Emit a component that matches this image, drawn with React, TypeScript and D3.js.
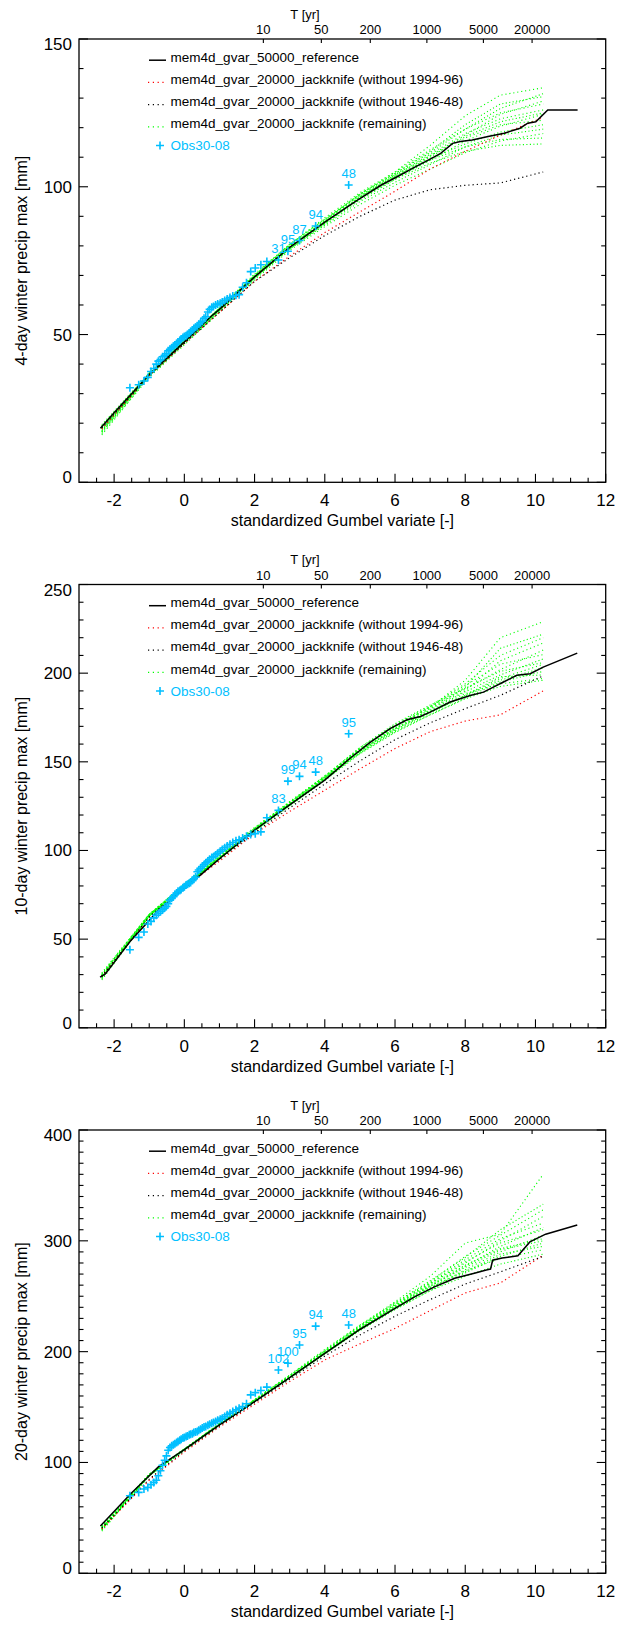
import React from "react";
import * as d3 from "d3";

// ---------- data ----------
const GX = [-2.35, -1, 0, 1, 2, 3, 4, 5, 6, 7, 8, 9, 10.22];

const OBS_X = [
  -1.55, -1.3, -1.15, -1.04, -0.95, -0.87, -0.8, -0.74, -0.68, -0.62,
  -0.56, -0.51, -0.46, -0.41, -0.36, -0.31, -0.27, -0.22, -0.18, -0.13,
  -0.09, -0.04, 0.0, 0.05, 0.09, 0.14, 0.18, 0.23, 0.27, 0.32,
  0.37, 0.41, 0.46, 0.51, 0.56, 0.61, 0.67, 0.72, 0.78, 0.83,
  0.89, 0.95, 1.02, 1.08, 1.15, 1.22, 1.3, 1.38, 1.47, 1.56,
  1.66, 1.77, 1.89, 2.02, 2.18, 2.35, 2.68, 2.95, 3.28, 3.74, 4.68,
];

// Panel 1: 4-day
const P1_REF_X = [-2.39, -2, -1, 0, 0.75, 1, 2, 3, 4, 4.93, 5.61, 6.06, 6.51, 6.96, 7.3, 7.64, 7.86, 8.2, 8.65, 9.11, 9.56, 9.78, 10.01, 10.35, 11.2];
const P1_REF_Y = [18.3, 23.5, 36.5, 47.5, 56, 58.5, 69.5, 79.5, 88, 95.5, 100.6, 103.4, 106.3, 109.1, 111.3, 114.7, 115.3, 115.8, 117, 118.1, 119.8, 121.5, 122, 126, 126];
const P1_RED = [18, 36, 47, 57.5, 68, 76.5, 84.5, 91.5, 98.5, 106, 112, 117.5, 123.5];
const P1_BLK = [18.5, 36, 47, 57.5, 68, 76, 83.5, 90, 95.5, 99, 100.5, 101.3, 105];
const P1_G1 = [16, 36, 47.5, 58.5, 70, 80.5, 89.5, 98, 105, 114, 124, 131, 133.5];
const P1_G2 = [17, 36.5, 48, 59, 70.5, 80.5, 89, 97.5, 104.5, 112, 121, 128, 130.5];
const P1_G3 = [18, 36.5, 47.5, 58.5, 69.5, 79.5, 88.5, 97, 104, 111, 118, 123, 126];
const P1_G4 = [19, 37, 48, 59, 70, 80, 88, 96.5, 103.5, 110, 117, 122, 125];
const P1_G5 = [17.5, 36, 47, 58, 69, 79, 87.5, 95.5, 102.5, 109, 115.5, 120.5, 124.5];
const P1_G6 = [18.5, 36.5, 47.5, 58.5, 69.5, 79, 87, 95, 101.5, 107.5, 113.5, 117.5, 119.5];
const P1_G7 = [16.5, 35.5, 46.5, 57.5, 68.5, 78.5, 86.5, 94, 100.5, 106, 111.5, 115.5, 118];
const P1_G8 = [19.5, 37, 48, 58.5, 69.5, 79.5, 88, 96, 102.5, 108, 112, 114, 114.5];
const P1_G9 = [17, 36, 47, 58, 69, 79, 87.5, 96.5, 104, 110.5, 116.5, 121, 122.5];
const P1_G10 = [18, 36.5, 47.5, 59, 70, 80.5, 89, 97, 103.5, 109.5, 114.5, 118.5, 121];
const P1_G11 = [18, 36, 47.5, 58.5, 69.5, 80, 88.5, 97.5, 105, 112.5, 119.5, 125, 128];
const P1_G12 = [17.5, 36.5, 47.5, 58.5, 69.5, 79, 87.5, 96, 103, 109, 113.5, 116, 116.5];
const P1_G13 = [18.5, 36, 47, 58, 69, 79.5, 88, 96.5, 103.5, 110.5, 117.5, 124.5, 129];
const P1_G14 = [19, 36.5, 47.5, 58.5, 70, 80, 88.5, 97.5, 104.5, 111.5, 119.5, 126.5, 131.5];
const P1_OBS = [
  32, 33, 34.3, 35.5, 37.5, 38.5, 40, 41, 41.5, 42.5,
  43, 43.5, 44.5, 45, 45.5, 46, 46.5, 47, 47.5, 48,
  48.5, 49, 49.3, 49.6, 50, 50.5, 51, 51.5, 52, 52.5,
  53, 53.5, 54, 54.5, 55.5, 56, 57.6, 58.5, 59.2, 59.5,
  60, 60.3, 60.6, 61, 61.5, 62, 62.5, 63, 63.3, 63.5,
  66, 67.5, 71.3, 72.5, 73.6, 74.7, 75.2, 78.2, 81.8, 86.7, 100.6,
];
const P1_LABELS = ["31", "95", "87", "94", "48"];

// Panel 2: 10-day
const P2_REF_X = [-2.4, -2.25, -1.52, -0.74, 0.39, 1.06, 1.99, 2.64, 3.31, 3.99, 4.72, 5.29, 5.86, 6.34, 6.72, 7.0, 7.57, 8.14, 8.52, 8.8, 9.09, 9.47, 9.85, 10.22, 11.19];
const P2_REF_Y = [28.6, 30.4, 49.3, 66.2, 85, 96.3, 111.3, 120.7, 130.1, 139.5, 152, 161, 168.7, 173.7, 175.6, 178, 183.7, 187.4, 189.3, 192.1, 195, 198.8, 199.7, 203.4, 211.3];
const P2_RED = [29, 62, 79, 94, 109.5, 122, 134, 146, 157.5, 167, 173, 176.5, 190];
const P2_BLK = [29, 62.5, 79.5, 95, 110, 124, 137.5, 150.5, 162.5, 172, 180, 187.5, 198.5];
const P2_G1 = [27, 63, 81, 97, 113, 127.5, 142, 157, 170, 180.5, 196, 220, 229];
const P2_G2 = [28, 63.5, 80.5, 96.5, 112.5, 127, 141.5, 156.5, 169, 179.5, 192, 214, 222];
const P2_G3 = [30, 64, 80.5, 96, 112, 126.5, 141, 157, 170.5, 181, 191, 202, 213];
const P2_G4 = [31, 64, 80, 95.5, 111.5, 126, 140.5, 156, 169, 179, 189.5, 199, 208];
const P2_G5 = [29, 63, 79.5, 95, 111, 125.5, 140, 155.5, 168, 178, 187.5, 197, 205];
const P2_G6 = [28.5, 63, 80, 95.5, 111.5, 126, 140.5, 155, 167, 176.5, 186, 195, 201];
const P2_G7 = [30.5, 64, 80.5, 96, 112, 126.5, 141, 156, 168.5, 178.5, 188.5, 194, 197];
const P2_G8 = [27.5, 63, 80, 95.5, 111, 125, 139.5, 154.5, 166.5, 176.5, 185.5, 192.5, 196];
const P2_G9 = [29, 63.5, 80, 95.5, 111.5, 126, 141, 157.5, 170, 181, 193, 205, 210.5];
const P2_G10 = [30, 64, 81, 96.5, 112.5, 127, 142, 158, 171.5, 182, 191.5, 201, 206];
const P2_G11 = [29.5, 63.5, 80.5, 96, 112, 127, 141.5, 157, 170, 180, 190, 207, 217];
const P2_G12 = [28, 63, 80, 95.5, 111.5, 126, 140.5, 156, 168.5, 178, 187, 196, 203];
const P2_G13 = [30, 64, 81, 96.5, 112.5, 127.5, 142, 158, 171, 181.5, 194, 210, 220];
const P2_G14 = [29, 63, 80, 95.5, 111, 125.5, 140, 155, 167.5, 177.5, 187.5, 198, 199];
const P2_OBS = [
  44, 51, 54, 58.5, 60, 62, 63.5, 64.5, 65.5, 66.5,
  67.5, 68.5, 70, 72, 73, 74, 75, 76, 77, 77.5,
  78, 79, 79.5, 80.5, 81, 81.5, 82, 83, 84, 85,
  88, 89, 90, 91, 92, 93, 94, 95, 96, 96.5,
  97.5, 98.5, 99.5, 100.5, 101.5, 102.5, 103.5, 104.5, 105.5, 106,
  107, 108, 109, 109.5, 110.5, 118.5, 122.6, 139.1, 141.8, 144.2, 165.8,
];
const P2_LABELS = ["83", "99", "94", "48", "95"];

// Panel 3: 20-day
const P3_REF_X = [-2.39, -1.52, -0.74, 0, 1, 2, 3, 4, 5, 6, 6.57, 7.14, 7.7, 8.26, 8.6, 8.72, 8.78, 9.05, 9.5, 9.84, 10.29, 11.19];
const P3_REF_Y = [42.7, 72, 96, 111.5, 134, 155, 176.5, 198.5, 220, 239, 249.6, 258.7, 266.2, 270.8, 273.7, 274.5, 282.5, 284.5, 286.5, 299, 306, 314.3];
const P3_RED = [40, 84, 109.5, 132, 152.5, 173, 192.5, 207, 221, 237, 253, 262, 287];
const P3_BLK = [41, 85, 110.5, 133, 154, 175, 196, 215, 232, 247, 261, 272, 286];
const P3_G1 = [38, 88, 112, 135, 157, 179, 202, 224, 245, 268, 298, 306, 360];
const P3_G2 = [40, 88.5, 112, 135, 156.5, 178.5, 201, 223.5, 244, 264, 285, 310, 333];
const P3_G3 = [42, 89.5, 112.5, 135, 156, 177.5, 200, 222, 242, 261, 280, 300, 322];
const P3_G4 = [43, 89.5, 112, 134.5, 155.5, 177, 199, 221, 241, 259, 277, 295, 312];
const P3_G5 = [41, 88.5, 111.5, 134, 155, 176.5, 198.5, 220, 239.5, 257, 274, 290, 305];
const P3_G6 = [39, 88, 111, 133.5, 154.5, 176, 198, 219, 238, 255, 271, 286, 298];
const P3_G7 = [42.5, 89, 112, 134.5, 155.5, 177, 199, 220.5, 240, 258, 273, 284, 292];
const P3_G8 = [40.5, 88.5, 111.5, 134, 155, 176.5, 198, 219.5, 238.5, 255, 268, 279, 288];
const P3_G9 = [41.5, 89, 112, 135, 156, 178, 200.5, 223, 243, 262, 283, 302, 316];
const P3_G10 = [39.5, 88.5, 111.5, 134, 155, 176.5, 199, 221.5, 241.5, 260, 278, 293, 302];
const P3_G11 = [41, 89, 112, 134.5, 156, 177.5, 200, 222.5, 242.5, 261.5, 281, 298, 310];
const P3_G12 = [40, 88.5, 111.5, 134, 155, 176.5, 198.5, 220.5, 240, 257.5, 272, 288, 295];
const P3_G13 = [42, 89, 112, 135, 156.5, 178.5, 201, 223.5, 244, 263, 286, 305, 328];
const P3_G14 = [39, 88, 111.5, 134, 155, 176.5, 199, 221, 240.5, 259, 276, 292, 300];
const P3_OBS = [
  70, 73, 76, 77.5, 80, 82, 84, 88, 92.5, 97.5,
  102, 106, 111, 113.5, 115, 116, 117, 118, 119, 120,
  121, 122, 122.5, 123.5, 124, 125, 125.5, 126, 127, 127.5,
  128, 129, 130, 131, 132, 132.5, 133.5, 134.5, 135.5, 136,
  137, 138, 139, 140, 141.5, 143, 144.5, 146, 147.5, 149,
  150.5, 153, 161, 163, 165, 168, 183.5, 189.5, 206, 223, 224,
];
const P3_LABELS = ["102", "100", "95", "94", "48"];

const T_TICKS = [10, 50, 200, 1000, 5000, 20000];
const X_MAJOR = [-2, 0, 2, 4, 6, 8, 10, 12];
const LEGEND_LABELS = [
  "mem4d_gvar_50000_reference",
  "mem4d_gvar_20000_jackknife (without 1994-96)",
  "mem4d_gvar_20000_jackknife (without 1946-48)",
  "mem4d_gvar_20000_jackknife (remaining)",
  "Obs30-08",
];

const PANELS = [
  { yMax: 150, yStep: 50, title: "4-day winter precip max [mm]", refX: P1_REF_X, refY: P1_REF_Y, red: P1_RED, blk: P1_BLK,
    greens: [P1_G1, P1_G2, P1_G3, P1_G4, P1_G5, P1_G6, P1_G7, P1_G8, P1_G9, P1_G10, P1_G11, P1_G12, P1_G13, P1_G14], obs: P1_OBS, labels: P1_LABELS },
  { yMax: 250, yStep: 50, title: "10-day winter precip max [mm]", refX: P2_REF_X, refY: P2_REF_Y, red: P2_RED, blk: P2_BLK,
    greens: [P2_G1, P2_G2, P2_G3, P2_G4, P2_G5, P2_G6, P2_G7, P2_G8, P2_G9, P2_G10, P2_G11, P2_G12, P2_G13, P2_G14], obs: P2_OBS, labels: P2_LABELS },
  { yMax: 400, yStep: 100, title: "20-day winter precip max [mm]", refX: P3_REF_X, refY: P3_REF_Y, red: P3_RED, blk: P3_BLK,
    greens: [P3_G1, P3_G2, P3_G3, P3_G4, P3_G5, P3_G6, P3_G7, P3_G8, P3_G9, P3_G10, P3_G11, P3_G12, P3_G13, P3_G14], obs: P3_OBS, labels: P3_LABELS },
];

// ---------- layout ----------
const LEFT = 79;
const RIGHT = 605.7;
const PH = 443.3;
const TOP0 = 39;
const STEP = 545.5;
const FONT = "'Liberation Sans', Arial, Helvetica, sans-serif";
const CYAN = "#00bfff";
const GREEN = "#00ff00";
const RED = "#ff0000";

const xs = d3.scaleLinear().domain([-3, 12]).range([LEFT, RIGHT]);

function Panel({ p, top }: { p: any; top: number }) {
  const bottom = top + PH;
  const y = d3.scaleLinear().domain([0, p.yMax]).range([bottom, top]);
  const line = d3.line<[number, number]>().x((d) => xs(d[0])).y((d) => y(d[1]));
  const jk = (vals: number[]) => line(GX.map((g, i) => [g, vals[i]] as [number, number])) || "";
  const refPath = line(p.refX.map((g: number, i: number) => [g, p.refY[i]] as [number, number])) || "";

  const yMajor = d3.range(0, p.yMax + 0.001, p.yStep);
  const yMinor = d3.range(0, p.yMax + 0.001, 10).filter((v) => Math.abs(v / p.yStep - Math.round(v / p.yStep)) > 1e-6);
  const xMinor = d3.range(-2.5, 12, 0.5).filter((v) => Math.abs(v / 2 - Math.round(v / 2)) > 1e-6);
  const gum = (T: number) => -Math.log(-Math.log(1 - 1 / T));
  const nObs = p.obs.length;
  const legY = (i: number) => top + 17.7 + i * 22.2;

  return (
    <g>
      {p.greens.map((g: number[], i: number) => (
        <path key={"g" + i} d={jk(g)} fill="none" stroke={GREEN} strokeWidth={1.1} strokeDasharray={i % 2 ? "1.1 2.4" : "1.1 2.9"} />
      ))}
      <path d={jk(p.red)} fill="none" stroke={RED} strokeWidth={1.2} strokeDasharray="1.2 3" />
      <path d={jk(p.blk)} fill="none" stroke="#000" strokeWidth={1.2} strokeDasharray="1.2 3" />
      <path d={refPath} fill="none" stroke="#000" strokeWidth={1.5} />

      {p.obs.map((v: number, i: number) => {
        const cx = xs(OBS_X[i]);
        const cy = y(v);
        return <path key={"o" + i} d={`M${cx - 4},${cy}H${cx + 4}M${cx},${cy - 4}V${cy + 4}`} stroke={CYAN} strokeWidth={1.6} />;
      })}
      {p.labels.map((lab: string, j: number) => {
        const i = nObs - p.labels.length + j;
        return (
          <text key={"l" + j} x={xs(OBS_X[i])} y={y(p.obs[i]) - 7} fontSize={13} fill={CYAN} textAnchor="middle">
            {lab}
          </text>
        );
      })}

      <rect x={LEFT} y={top} width={RIGHT - LEFT} height={PH} fill="none" stroke="#000" strokeWidth={1.3} />

      {yMajor.map((v, i) => (
        <g key={"ym" + i}>
          <line x1={LEFT} x2={LEFT + 9} y1={y(v)} y2={y(v)} stroke="#000" strokeWidth={1.1} />
          <line x1={RIGHT} x2={RIGHT - 9} y1={y(v)} y2={y(v)} stroke="#000" strokeWidth={1.1} />
          <text
            x={72}
            y={y(v) + 6 + (i === 0 ? -5 : i === yMajor.length - 1 ? 5 : 0)}
            fontSize={17}
            textAnchor="end"
          >
            {v}
          </text>
        </g>
      ))}
      {yMinor.map((v, i) => (
        <g key={"yn" + i}>
          <line x1={LEFT} x2={LEFT + 4.5} y1={y(v)} y2={y(v)} stroke="#000" strokeWidth={1.1} />
          <line x1={RIGHT} x2={RIGHT - 4.5} y1={y(v)} y2={y(v)} stroke="#000" strokeWidth={1.1} />
        </g>
      ))}

      {X_MAJOR.map((v) => (
        <g key={"xm" + v}>
          <line x1={xs(v)} x2={xs(v)} y1={bottom} y2={bottom - 8.5} stroke="#000" strokeWidth={1.1} />
          <text x={xs(v)} y={bottom + 24} fontSize={17} textAnchor="middle">
            {v}
          </text>
        </g>
      ))}
      {xMinor.map((v) => (
        <line key={"xn" + v} x1={xs(v)} x2={xs(v)} y1={bottom} y2={bottom - 4.5} stroke="#000" strokeWidth={1.1} />
      ))}
      <text x={(LEFT + RIGHT) / 2} y={bottom + 44} fontSize={16} textAnchor="middle">
        standardized Gumbel variate [-]
      </text>

      {T_TICKS.map((T) => (
        <g key={"t" + T}>
          <line x1={xs(gum(T))} x2={xs(gum(T))} y1={top} y2={top + 4} stroke="#000" strokeWidth={1.1} />
          <text x={xs(gum(T))} y={top - 5} fontSize={13} textAnchor="middle">
            {T}
          </text>
        </g>
      ))}
      <text x={305} y={top - 20.5} fontSize={13} textAnchor="middle">
        T [yr]
      </text>

      <text transform={`translate(27,${(top + bottom) / 2}) rotate(-90)`} fontSize={16} textAnchor="middle">
        {p.title}
      </text>

      <line x1={149} x2={166} y1={legY(0) + 3.5} y2={legY(0) + 3.5} stroke="#000" strokeWidth={1.5} />
      <line x1={148} x2={167} y1={legY(1) + 3.5} y2={legY(1) + 3.5} stroke={RED} strokeWidth={1.2} strokeDasharray="1.2 3.6" />
      <line x1={148} x2={167} y1={legY(2) + 3.5} y2={legY(2) + 3.5} stroke="#000" strokeWidth={1.2} strokeDasharray="1.2 3.6" />
      <line x1={148} x2={167} y1={legY(3) + 3.5} y2={legY(3) + 3.5} stroke={GREEN} strokeWidth={1.2} strokeDasharray="1.2 3.6" />
      <path d={`M156,${legY(4)}H164M160,${legY(4) - 4}V${legY(4) + 4}`} stroke={CYAN} strokeWidth={1.6} />
      {LEGEND_LABELS.map((t, i) => (
        <text key={"lg" + i} x={170.6} y={legY(i) + 4.8} fontSize={13.5} fill={i === 4 ? CYAN : "#000"}>
          {t}
        </text>
      ))}
    </g>
  );
}

export default function App() {
  return (
    <svg
      width={620}
      height={1625}
      style={{ position: "absolute", left: 0, top: 0, display: "block", background: "#fff" }}
      fontFamily={FONT}
    >
      <rect x={0} y={0} width={620} height={1625} fill="#fff" />
      {PANELS.map((p, k) => (
        <Panel key={k} p={p} top={TOP0 + k * STEP} />
      ))}
    </svg>
  );
}
